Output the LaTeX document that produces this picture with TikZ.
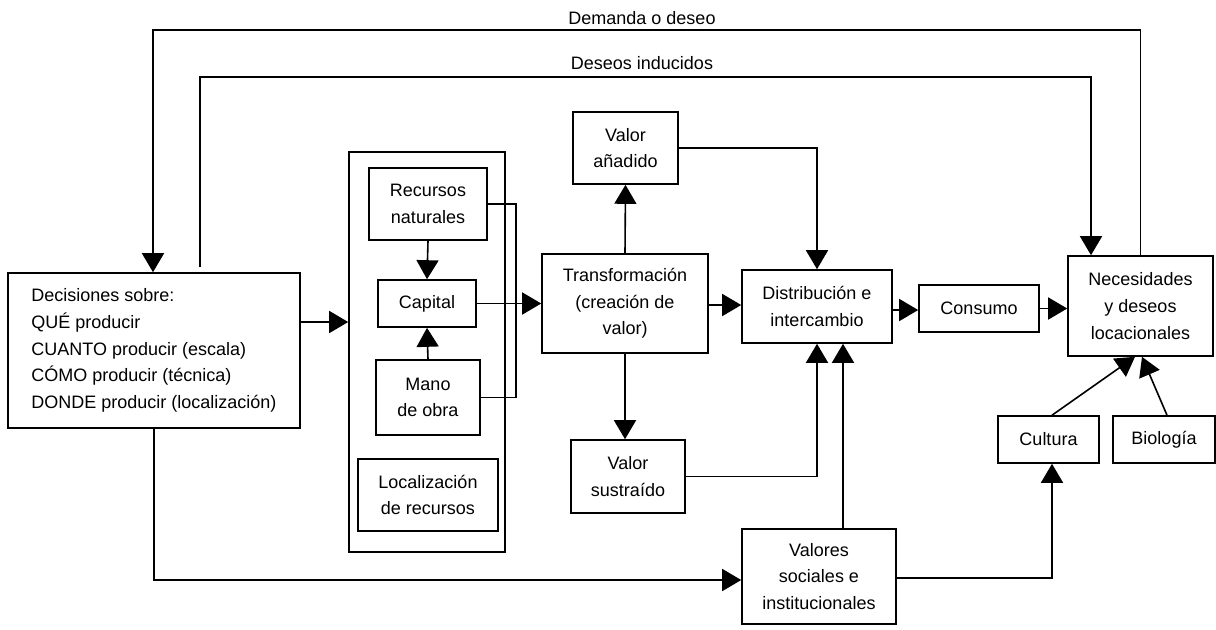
\documentclass[tikz,border=0pt]{standalone}
\usepackage{fontspec}
\setmainfont{Liberation Sans}
\usetikzlibrary{arrows.meta,calc}

\begin{document}
\begin{tikzpicture}[x=0.5pt,y=-0.5pt,
  caja/.style={draw,line width=0.8pt,align=center,inner sep=0pt,
    font=\fontsize{9}{13.3}\selectfont},
  flecha/.style={line width=0.8pt,-{Triangle[length=9.5pt,width=11pt]}},
  linea/.style={line width=0.8pt}]
\useasboundingbox (0,0) rectangle (1216,629);
%boxes
\node[caja,align=left,minimum width=146pt,minimum height=77.5pt] (dec) at (154,350.5)
  {Decisiones sobre:\\QUÉ producir\\CUANTO producir (escala)\\CÓMO producir (técnica)\\DONDE producir (localización)};
\node[caja,minimum width=78pt,minimum height=200pt] (cont) at (427,352) {};
\node[caja,minimum width=59pt,minimum height=36pt] (rec) at (428,204) {Recursos\\naturales};
\node[caja,minimum width=49pt,minimum height=23.5pt] (cap) at (427,303.5) {Capital};
\node[caja,minimum width=52pt,minimum height=37.5pt] (mano) at (428,397.5) {Mano\\de obra};
\node[caja,minimum width=70pt,minimum height=36pt] (loc) at (428,495) {Localización\\de recursos};
\node[caja,minimum width=83pt,minimum height=49.5pt] (trans) at (625,303.5) {Transformación\\(creación de\\valor)};
\node[caja,minimum width=52.5pt,minimum height=36pt] (vad) at (625.5,148) {Valor\\añadido};
\node[caja,minimum width=57pt,minimum height=36.5pt] (vsus) at (628,476.5) {Valor\\sustraído};
\node[caja,minimum width=75pt,minimum height=36.5pt] (dist) at (817,306.5) {Distribución e\\intercambio};
\node[caja,minimum width=60pt,minimum height=23.5pt] (cons) at (979,308.5) {Consumo};
\node[caja,minimum width=72.5pt,minimum height=50pt] (nec) at (1140.5,306) {Necesidades\\y deseos\\locacionales};
\node[caja,minimum width=50.5pt,minimum height=23.5pt] (cult) at (1048.5,439.5) {Cultura};
\node[caja,minimum width=51pt,minimum height=23.5pt] (bio) at (1164,439.5) {Biología};
\node[caja,minimum width=77pt,minimum height=47.5pt] (soc) at (819,576.5) {Valores\\sociales e\\institucionales};
%feedback lines
\coordinate (dem) at (153,30);
\coordinate (ind) at (200,77);
\draw[flecha] (nec.north) |- (dem) -- (dem |- dec.north);
\draw[flecha] ([yshift=2.5pt]ind |- dec.north) -- (ind) -| ([xshift=-24.75pt]nec.north);
\node[font=\fontsize{9}{13.3}\selectfont] (tdem) at (642,18) {Demanda o deseo};
\node[font=\fontsize{9}{13.3}\selectfont] (tind) at (642,63) {Deseos inducidos};
%main flow
\draw[flecha] ([yshift=14.25pt]dec.east) -- ([yshift=14.25pt]dec.east -| cont.west);
\draw[flecha] (rec.south) -- (cap.north);
\draw[flecha] (mano.north) -- (cap.south);
\draw[linea] (rec.east) -- ++(28,0) |- (mano.east);
\draw[flecha] (cap.east) -- (trans.west);
\draw[flecha] (trans.north) -- (vad.south);
\draw[flecha] (trans.south) -- (trans.south |- vsus.north);
\draw[flecha] (vad.east) -| (dist.north);
\draw[flecha] (vsus.east) -| (dist.south);
\draw[flecha] ([xshift=12pt]soc.north) -- ([xshift=12pt]soc.north |- dist.south);
\draw[flecha] ([yshift=-0.75pt]trans.east) -- ([yshift=-0.75pt]trans.east -| dist.west);
\draw[flecha] ([yshift=-1.75pt]dist.east) -- ([yshift=-1.75pt]dist.east -| cons.west);
\draw[flecha] (cons.east) -- (cons.east -| nec.west);
\draw[flecha] ([xshift=1.75pt]cult.north) -- ([xshift=-2.75pt]nec.south);
\draw[flecha] ([xshift=1.5pt]bio.north) -- ([xshift=0.75pt]nec.south);
\draw[flecha] (dec.south) |- ([yshift=-1.75pt]soc.west);
\draw[flecha] ([yshift=-0.75pt]soc.east) -| ([xshift=1.75pt]cult.south);
\end{tikzpicture}
\end{document}
